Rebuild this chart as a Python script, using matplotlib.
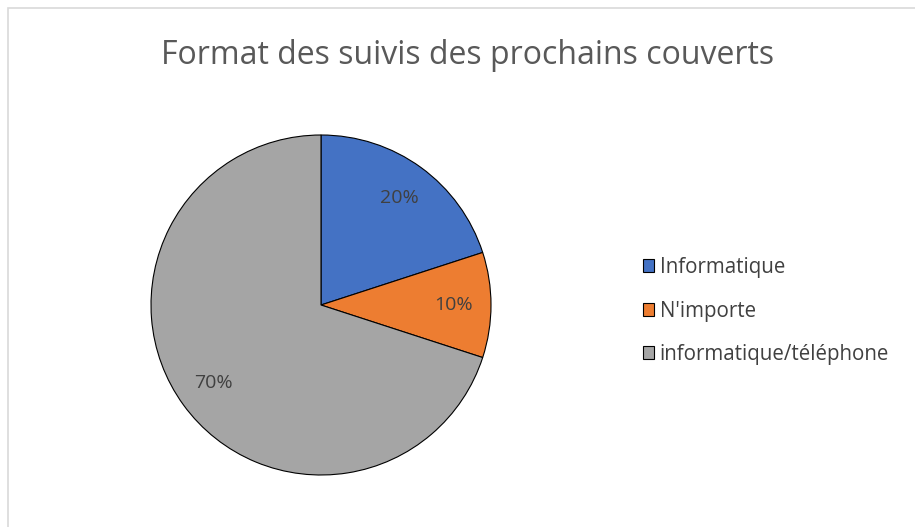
import matplotlib.pyplot as plt
from matplotlib.patches import Rectangle

labels = ['Informatique', "N'importe", 'informatique/téléphone']
values = [20, 10, 70]
colors = ['#4472C4', '#ED7D31', '#A5A5A5']

plt.rcParams['font.family'] = ['Open Sans', 'DejaVu Sans']

W, H = 915, 527
fig = plt.figure(figsize=(W / 100, H / 100), dpi=100)

# chart frame (cropped on right and bottom)
fig.patches.append(Rectangle((8 / W, -0.1), 1.2, (H - 8) / H + 0.1, transform=fig.transFigure,
                             fill=False, edgecolor='#D9D9D9', linewidth=1.2))

cx, cy, r = 321, 305, 170
ax = fig.add_axes([(cx - r) / W, (H - cy - r) / H, 2 * r / W, 2 * r / H])
wedges, texts, autotexts = ax.pie(values, colors=colors, startangle=90, counterclock=False,
                                  autopct='%1.0f%%', pctdistance=0.78,
                                  wedgeprops=dict(edgecolor='black', linewidth=0.8),
                                  textprops=dict(color='#404040', fontsize=14))
ax.set_xlim(-1, 1)
ax.set_ylim(-1, 1)

fig.text(468 / W, (H - 55) / H, 'Format des suivis des prochains couverts',
         ha='center', va='center', fontsize=23, color='#595959')

fig.legend(wedges, labels, loc='center left', bbox_to_anchor=(624 / W, (H - 311) / H),
           frameon=False, fontsize=14.8, labelcolor='#404040', handlelength=0.58,
           handleheight=0.58, handletextpad=0.25, labelspacing=1.1)

fig.savefig('out.png', dpi=100)
